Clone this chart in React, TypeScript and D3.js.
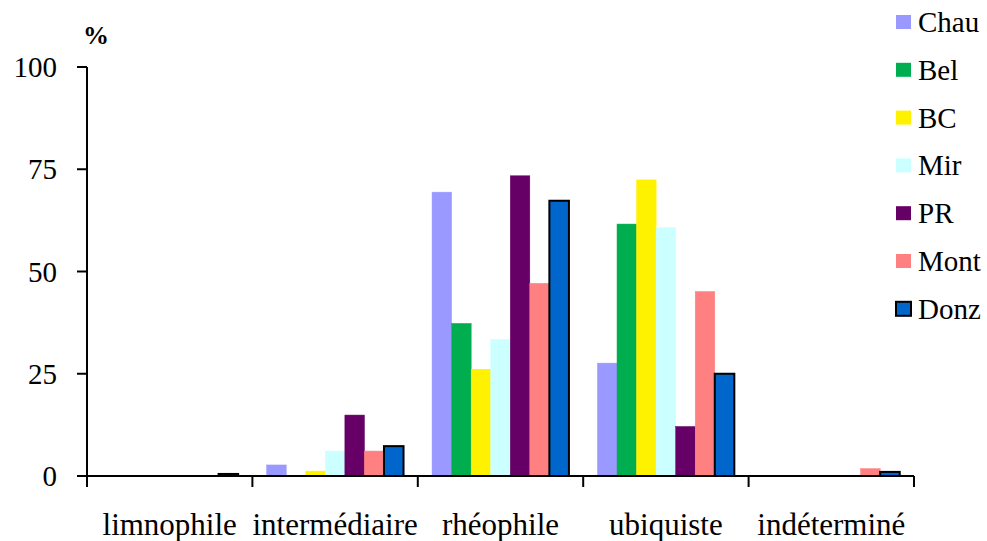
import React, { useEffect, useRef } from "react";
import * as d3 from "d3";

const categories = ["limnophile", "intermédiaire", "rhéophile", "ubiquiste", "indéterminé"];
const seriesNames = ["Chau", "Bel", "BC", "Mir", "PR", "Mont", "Donz"];
const seriesColors = ["#9999FF", "#00AE50", "#FFF200", "#CCFFFF", "#660066", "#FF8080", "#0066CC"];
const chau = [0, 2.7, 69.4, 27.6, 0];
const bel = [0, 0, 37.3, 61.6, 0];
const bc = [0, 1.2, 26.1, 72.4, 0];
const mir = [0, 6.1, 33.4, 60.7, 0];
const pr = [0, 14.9, 73.4, 12.1, 0];
const mont = [0, 6.1, 47.1, 45.1, 1.8];
const donz = [0.5, 7.3, 67.3, 25.0, 1.0];
const yTicks = [0, 25, 50, 75, 100];

const seriesValues = [chau, bel, bc, mir, pr, mont, donz];

const FONT = "Liberation Serif";

export default function App() {
  const ref = useRef<SVGSVGElement | null>(null);
  const W = 987, H = 541;

  useEffect(() => {
    const svg = d3.select(ref.current);
    svg.selectAll("*").remove();
    const left = 87, right = 914, top = 67, bottom = 476;
    const x0 = d3.scaleBand<string>().domain(categories).range([left, right]).padding(0);
    const x1 = d3.scaleBand<string>().domain(seriesNames).range([0, x0.bandwidth()]).paddingInner(0).paddingOuter(0.73);
    const y = d3.scaleLinear().domain([0, 100]).range([bottom, top]);
    const legendY = d3.scaleLinear().domain([0, 1]).range([22, 69.8]);

    svg.append("rect").attr("x", 0).attr("y", 0).attr("width", W).attr("height", H).attr("fill", "#fff");

    const bars: { c: string; s: string; v: number; si: number }[] = [];
    categories.forEach((c, ci) =>
      seriesNames.forEach((s, si) => {
        const v = seriesValues[si][ci];
        if (v > 0) bars.push({ c, s, v, si });
      })
    );
    svg.selectAll("rect.bar").data(bars).enter().append("rect")
      .attr("class", "bar")
      .attr("x", (d) => (x0(d.c) as number) + (x1(d.s) as number))
      .attr("y", (d) => y(d.v))
      .attr("width", x1.bandwidth())
      .attr("height", (d) => y(0) - y(d.v))
      .attr("fill", (d) => seriesColors[d.si])
      .attr("stroke", (d) => (d.s === "Donz" ? "#000" : seriesColors[d.si]))
      .attr("stroke-width", (d) => (d.s === "Donz" ? 2 : 0.5));

    const line = (xa: number, ya: number, xb: number, yb: number) =>
      svg.append("line").attr("x1", xa).attr("y1", ya).attr("x2", xb).attr("y2", yb).attr("stroke", "#000").attr("stroke-width", 2);

    line(left, top, left, bottom);
    yTicks.forEach((t) => line(left - 10, y(t), left, y(t)));
    line(left - 10, bottom, right, bottom);
    categories.forEach((c) => line(x0(c) as number, bottom, x0(c) as number, bottom + 11));
    line(right, bottom, right, bottom + 11);

    const txt = (x: number, yy: number, s: string, size: number, anchor: string, bold = false) =>
      svg.append("text").attr("x", x).attr("y", yy).attr("text-anchor", anchor)
        .attr("font-family", FONT).style("font-family", FONT)
        .attr("font-size", size).attr("font-weight", bold ? "bold" : "normal")
        .attr("fill", "#000").text(s);

    yTicks.forEach((t) => txt(57, y(t) + 10, String(t), 29, "end"));
    categories.forEach((c) => txt((x0(c) as number) + x0.bandwidth() / 2, 535, c, 31, "middle"));
    txt(96, 44, "%", 26, "middle", true);

    seriesNames.forEach((s, i) => {
      svg.append("rect").attr("x", 896).attr("y", legendY(i) - 7).attr("width", 15).attr("height", 14)
        .attr("fill", seriesColors[i])
        .attr("stroke", s === "Donz" ? "#000" : "none")
        .attr("stroke-width", s === "Donz" ? 2 : 0);
      txt(918, legendY(i) + 10, s, 29, "start");
    });
  }, []);

  return (
    <svg ref={ref} width={W} height={H} style={{ position: "absolute", left: 0, top: 0 }} />
  );
}
